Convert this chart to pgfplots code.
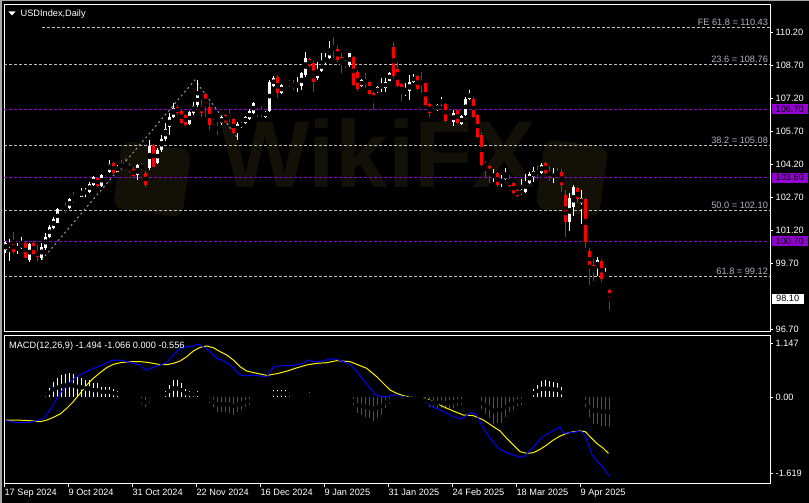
\documentclass[border=0pt]{standalone}
\usepackage{fontspec}
\setmainfont{Liberation Sans}
\usepackage{pgfplots}
\usepackage{pgfplotstable}
\pgfplotsset{compat=1.18}
\definecolor{fibgray}{HTML}{BEBEBE}
\definecolor{fibtxt}{HTML}{B0B4BC}
\definecolor{mtpurple}{HTML}{9400D3}
\definecolor{candlered}{HTML}{FF0000}
\definecolor{histred}{HTML}{DC1414}
\definecolor{wm}{RGB}{19,16,7}
\newcommand\lab{\fontsize{9.2bp}{11bp}\selectfont}
% up-indicator: 1 if close > open, 0 otherwise (no comparisons)
\newcommand\upind{min(1,1000*max(0,\thisrow{c}-\thisrow{o}))}

\pgfplotstableread{
i o h l c
0 100.32 100.70 100.17 100.65
1 100.50 100.80 99.83 100.62
2 100.65 101.14 100.17 100.24
3 100.36 100.65 100.12 100.40
4 100.40 100.90 100.38 100.60
5 100.65 100.70 99.95 99.97
6 99.86 100.62 99.78 100.60
7 100.65 100.70 100.10 100.14
8 100.27 100.55 99.80 100.00
9 99.94 100.62 99.86 100.47
10 100.40 101.08 100.32 100.92
11 100.90 101.45 100.85 101.38
12 101.30 101.83 101.26 101.71
13 101.56 102.20 101.53 102.17
14 102.30 102.36 102.14 102.22
15 102.27 102.44 101.98 102.17
16 102.21 102.70 102.17 102.64
17 102.67 102.95 102.44 102.56
18 102.71 102.77 102.52 102.62
19 102.74 103.12 102.71 102.97
20 102.92 103.12 102.74 103.01
21 102.97 103.39 102.92 103.32
22 103.27 103.68 103.23 103.62
23 103.58 103.62 103.20 103.24
24 103.23 103.77 103.20 103.73
25 103.73 103.92 103.68 103.86
26 103.86 104.41 103.83 104.23
27 104.26 104.30 103.78 103.83
28 103.88 104.20 103.85 104.10
29 104.21 104.41 103.92 104.06
30 104.10 104.48 103.95 104.06
31 104.10 104.26 103.80 103.90
32 103.98 104.10 103.58 103.68
33 103.73 104.23 103.50 104.18
34 104.10 104.25 103.95 104.05
35 103.83 103.90 103.20 103.27
36 104.03 105.32 103.95 105.05
37 105.09 105.14 104.08 104.10
38 104.29 104.94 104.23 104.86
39 104.86 105.55 104.79 105.36
40 105.35 106.08 105.29 105.80
41 105.90 106.53 105.55 106.38
42 106.35 106.98 106.30 106.76
43 106.83 106.90 106.45 106.53
44 106.65 106.71 106.05 106.10
45 106.45 106.50 105.95 106.00
46 106.03 106.65 105.98 106.60
47 106.53 107.06 106.45 106.86
48 106.91 108.04 106.83 107.36
49 106.86 107.13 106.38 106.55
50 107.41 107.44 106.38 106.80
51 106.80 107.06 105.77 105.98
52 106.19 106.25 106.00 106.07
53 105.95 106.15 105.54 105.76
54 106.07 106.40 106.00 106.34
55 106.43 106.50 106.10 106.14
56 106.45 106.68 106.15 106.26
57 106.25 106.30 105.60 105.64
58 105.72 106.15 105.31 106.02
59 105.90 106.15 105.85 106.10
60 106.07 106.42 106.02 106.38
61 106.25 106.70 106.20 106.63
62 106.52 107.05 106.48 107.00
63 106.63 106.75 106.37 106.52
64 106.63 106.86 106.34 106.50
65 106.37 106.65 106.33 106.60
66 106.64 108.04 106.60 107.96
67 107.76 108.21 107.73 108.14
68 108.19 108.26 107.23 107.43
69 107.43 107.87 107.40 107.81
70 107.84 108.05 107.80 108.00
71 107.92 108.04 107.73 107.81
72 107.89 108.04 107.58 107.66
73 107.73 108.19 107.51 107.84
74 107.76 108.42 107.58 108.34
75 108.26 109.33 108.19 109.02
76 108.99 109.05 108.65 108.69
77 108.80 108.90 107.50 107.96
78 108.11 108.87 108.04 108.52
79 108.45 109.25 108.42 108.83
80 108.80 109.25 108.72 109.02
81 109.02 109.83 108.98 109.48
82 109.52 110.00 109.02 109.40
83 109.45 109.63 108.87 108.95
84 109.10 109.25 108.37 108.80
85 108.87 108.95 108.60 108.67
86 108.72 109.28 108.64 109.25
87 109.10 109.15 107.78 107.81
88 108.42 108.50 107.55 107.61
89 107.76 108.10 107.70 108.04
90 108.04 108.34 107.66 107.89
91 107.96 108.00 107.35 107.39
92 107.43 107.48 106.70 107.10
93 107.48 107.75 107.44 107.70
94 107.70 108.11 107.50 107.80
95 107.66 108.11 107.50 107.96
96 108.01 108.40 107.98 108.34
97 109.55 109.75 108.11 108.22
98 108.52 108.87 107.73 107.76
99 107.84 107.89 107.10 107.43
100 107.40 107.89 107.30 107.54
101 107.55 108.26 107.13 107.96
102 107.96 108.30 107.89 108.19
103 108.23 108.28 107.58 107.61
104 107.92 108.42 107.46 107.84
105 107.89 107.92 106.85 106.90
106 106.95 107.00 106.37 106.55
107 106.70 106.75 106.50 106.55
108 106.67 106.95 106.64 106.90
109 106.90 107.28 106.86 107.08
110 106.95 107.00 106.15 106.19
111 106.30 106.50 106.25 106.45
112 106.14 106.67 105.95 106.55
113 106.67 106.70 106.05 106.10
114 106.04 106.45 105.98 106.40
115 106.45 107.25 106.40 107.20
116 107.16 107.58 107.13 107.46
117 107.20 107.25 106.30 106.34
118 106.45 106.50 105.40 105.43
119 105.54 105.69 104.13 104.18
120 104.25 104.35 103.65 104.10
121 104.13 104.20 103.37 103.72
122 103.57 103.98 103.42 103.77
123 103.80 103.85 103.16 103.27
124 103.37 103.72 103.19 103.49
125 103.53 104.02 103.49 103.77
126 103.49 103.72 103.16 103.22
127 103.34 103.40 102.85 102.89
128 103.04 103.10 102.72 102.77
129 102.84 103.56 102.80 103.04
130 102.96 103.77 102.92 103.42
131 103.37 103.87 103.31 103.77
132 103.65 104.07 103.42 103.92
133 103.95 104.18 103.52 103.77
134 103.80 104.28 103.77 104.18
135 104.25 104.33 103.77 103.83
136 103.87 104.13 103.46 103.62
137 103.62 104.02 103.37 103.80
138 103.80 104.02 103.57 103.69
139 103.87 103.98 102.96 103.27
140 102.81 103.04 100.92 101.60
141 101.60 102.92 101.19 102.66
142 102.28 103.27 101.86 103.16
143 103.12 103.20 102.43 102.62
144 102.46 103.04 101.50 102.66
145 102.62 102.70 100.39 100.66
146 100.28 100.39 98.72 99.51
147 99.63 99.89 98.92 99.36
148 99.51 100.01 99.13 99.86
149 99.81 99.90 98.87 98.98
150 98.98 99.51 98.95 99.10
151 98.49 98.55 97.59 98.04
}\candles

\pgfplotstableread{
i v
1 -0.07
2 -0.075
3 -0.078
4 -0.075
5 -0.07
6 -0.065
7 -0.02
9 0.043
10 0.113
11 0.184
12 0.326
13 0.397
14 0.468
15 0.489
16 0.504
17 0.489
18 0.433
19 0.411
20 0.362
21 0.362
22 0.291
23 0.291
24 0.22
25 0.22
26 0.22
27 0.163
28 0.135
29 0.092
30 0.043
31 0.008
32 -0.078
33 -0.078
34 -0.149
35 -0.22
36 -0.121
37 -0.092
38 -0.064
39 0.028
40 0.128
41 0.255
42 0.362
43 0.362
44 0.291
45 0.163
46 0.135
47 0.113
48 0.128
49 -0.014
50 -0.01
51 -0.121
52 -0.206
53 -0.312
54 -0.312
55 -0.312
56 -0.333
57 -0.383
58 -0.312
59 -0.277
60 -0.22
61 -0.17
62 -0.078
63 -0.078
64 -0.064
65 -0.064
66 0.07
67 0.149
68 0.149
69 0.149
70 0.149
71 0.113
72 0.057
73 0.021
74 0.043
75 0.078
76 0.099
77 0.007
79 0.028
80 0.043
81 0.064
82 0.064
83 0.007
84 -0.028
85 -0.085
86 -0.085
87 -0.17
88 -0.348
89 -0.383
90 -0.418
91 -0.454
92 -0.511
93 -0.454
94 -0.383
95 -0.241
96 -0.156
97 -0.064
98 -0.028
99 -0.064
100 -0.064
101 -0.064
102 -0.043
103 -0.028
104 -0.043
105 -0.135
106 -0.206
107 -0.241
108 -0.255
109 -0.241
110 -0.255
111 -0.227
112 -0.227
113 -0.184
114 -0.17
115 -0.005
116 0.057
117 0.005
118 -0.028
119 -0.255
120 -0.369
121 -0.454
122 -0.582
123 -0.560
124 -0.545
125 -0.435
126 -0.32
127 -0.285
128 -0.2
129 -0.16
130 -0.03
131 0.064
132 0.163
133 0.255
134 0.348
135 0.362
136 0.348
137 0.326
138 0.305
139 0.206
140 0.005
141 -0.028
142 -0.028
143 -0.028
144 -0.028
145 -0.206
146 -0.433
147 -0.574
148 -0.574
149 -0.61
150 -0.61
151 -0.645
}\hist

\begin{document}
\begin{tikzpicture}
\useasboundingbox (0,0) rectangle (809bp,503bp);
\fill[black] (0,0) rectangle (809bp,503bp);
\fill[gray!70] (0,501.6bp) rectangle (809bp,503bp);
\fill[gray!70] (0,0) rectangle (1.5bp,503bp);
% watermark
\begin{scope}
\fill[wm,rounded corners=10bp,rotate around={-8:(152bp,323bp)}] (117bp,290bp) rectangle (187bp,358bp);
\fill[wm,rounded corners=10bp,rotate around={-8:(572bp,325bp)}] (540bp,290bp) rectangle (604bp,360bp);
\node[text=wm,font=\fontsize{95bp}{95bp}\selectfont\bfseries] at (378bp,350bp) {WikiFX};
\end{scope}

% ---------------- main price panel ----------------
\begin{axis}[
  at={(4bp,171bp)}, anchor=south west, scale only axis,
  width=766bp, height=327bp,
  xmin=-0.425, xmax=191.075, ymin=96.586, ymax=111.45,
  axis line style={white, line width=1bp},
  xtick=\empty,
  ytick={96.7,99.7,101.2,102.7,104.2,105.7,107.2,108.7,110.2},
  yticklabels={96.70,99.70,101.20,102.70,104.20,105.70,107.20,108.70,110.20},
  ytick pos=right, yticklabel pos=right,
  tick align=outside, major tick length=3bp,
  tick style={white, line width=1bp},
  yticklabel style={font=\lab, text=white, inner sep=0pt, xshift=2.5bp},
  clip=false,
]
% fib / level lines
\addplot[fibgray, line width=1bp, dash pattern=on 3bp off 2bp] coordinates {(9,110.43) (191.075,110.43)};
\addplot[fibgray, line width=1bp, dash pattern=on 3bp off 2bp] coordinates {(-0.425,108.76) (191.075,108.76)};
\addplot[fibgray, line width=1bp, dash pattern=on 3bp off 2bp] coordinates {(-0.425,105.08) (191.075,105.08)};
\addplot[fibgray, line width=1bp, dash pattern=on 3bp off 2bp] coordinates {(-0.425,102.10) (191.075,102.10)};
\addplot[fibgray, line width=1bp, dash pattern=on 3bp off 2bp] coordinates {(-0.425,99.12) (191.075,99.12)};
\addplot[mtpurple, line width=1bp, dash pattern=on 3bp off 2bp] coordinates {(-0.425,106.70) (191.075,106.70)};
\addplot[mtpurple, line width=1bp, dash pattern=on 3bp off 2bp] coordinates {(-0.425,103.60) (191.075,103.60)};
\addplot[mtpurple, line width=1bp, dash pattern=on 3bp off 2bp] coordinates {(-0.425,100.70) (191.075,100.70)};
% fibo expansion zigzag
\addplot[gray!80, line width=1bp, dash pattern=on 2bp off 3bp] coordinates {(9,99.86) (47.3,108.04) (57.8,105.45)};

% wicks (up = white, down = red)
\addplot[only marks, mark=none, restrict y to domain=90:120,
  error bars/.cd, y dir=both, y explicit, error mark=none,
  error bar style={draw=white, line width=1bp}]
  table[x=i, y expr={(\thisrow{h}+\thisrow{l})/2 - 1000*(1-\upind)},
        y error expr={(\thisrow{h}-\thisrow{l})/2}] {\candles};
\addplot[only marks, mark=none, restrict y to domain=90:120,
  error bars/.cd, y dir=both, y explicit, error mark=none,
  error bar style={draw=candlered, line width=1bp}]
  table[x=i, y expr={(\thisrow{h}+\thisrow{l})/2 - 1000*\upind},
        y error expr={(\thisrow{h}-\thisrow{l})/2}] {\candles};
% bodies
\addplot[only marks, mark=none, restrict y to domain=90:120,
  error bars/.cd, y dir=both, y explicit, error mark=none,
  error bar style={draw=white, line width=3bp}]
  table[x=i, y expr={(\thisrow{o}+\thisrow{c})/2 - 1000*(1-\upind)},
        y error expr={max(abs(\thisrow{c}-\thisrow{o})/2,0.025)}] {\candles};
\addplot[only marks, mark=none, restrict y to domain=90:120,
  error bars/.cd, y dir=both, y explicit, error mark=none,
  error bar style={draw=candlered, line width=3bp}]
  table[x=i, y expr={(\thisrow{o}+\thisrow{c})/2 - 1000*\upind},
        y error expr={max(abs(\thisrow{c}-\thisrow{o})/2,0.025)}] {\candles};

% level labels
\node[anchor=base east, text=fibtxt, font=\lab, inner sep=0pt] at (axis cs:190.6,110.43) [yshift=2bp] {FE 61.8 = 110.43};
\node[anchor=base east, text=fibtxt, font=\lab, inner sep=0pt] at (axis cs:190.6,108.76) [yshift=2bp] {23.6 = 108.76};
\node[anchor=base east, text=fibtxt, font=\lab, inner sep=0pt] at (axis cs:190.6,105.08) [yshift=2bp] {38.2 = 105.08};
\node[anchor=base east, text=fibtxt, font=\lab, inner sep=0pt] at (axis cs:190.6,102.10) [yshift=2bp] {50.0 = 102.10};
\node[anchor=base east, text=fibtxt, font=\lab, inner sep=0pt] at (axis cs:190.6,99.12) [yshift=2bp] {61.8 = 99.12};
% price boxes
\node[anchor=west, fill=mtpurple, text=black, font=\lab, inner sep=0pt, minimum width=36bp, minimum height=10bp] at (axis cs:191.075,106.70) [xshift=1.5bp] {106.70};
\node[anchor=west, fill=mtpurple, text=black, font=\lab, inner sep=0pt, minimum width=36bp, minimum height=10bp] at (axis cs:191.075,103.60) [xshift=1.5bp] {103.60};
\node[anchor=west, fill=mtpurple, text=black, font=\lab, inner sep=0pt, minimum width=36bp, minimum height=10bp] at (axis cs:191.075,100.70) [xshift=1.5bp] {100.70};
\node[anchor=west, fill=white, text=black, font=\lab, inner sep=0pt, minimum width=32bp, minimum height=10bp] at (axis cs:191.075,98.10) [xshift=1.5bp] {98.10};
\end{axis}

% ---------------- MACD panel ----------------
\begin{axis}[
  at={(4bp,19bp)}, anchor=south west, scale only axis,
  width=766bp, height=148bp,
  xmin=-0.425, xmax=191.075, ymin=-1.851, ymax=1.298,
  axis line style={white, line width=1bp},
  xtick={-0.2,15.8,31.8,47.8,63.8,79.8,95.8,111.8,127.8,143.8},
  xticklabels={17 Sep 2024,9 Oct 2024,31 Oct 2024,22 Nov 2024,16 Dec 2024,9 Jan 2025,31 Jan 2025,24 Feb 2025,18 Mar 2025,9 Apr 2025},
  xtick pos=left,
  ytick={-1.619,0,1.147},
  yticklabels={-1.619,0.00,1.147},
  ytick pos=right, yticklabel pos=right,
  tick align=outside, major tick length=3bp,
  tick style={white, line width=1bp},
  yticklabel style={font=\lab, text=white, inner sep=0pt, xshift=2.5bp},
  xticklabel style={font=\lab, text=white, inner sep=0pt, anchor=north west, xshift=-0.5bp, yshift=-2bp},
  clip=false,
]
% histogram: sign of y selects the plot
\addplot[only marks, mark=none, restrict y to domain=0:5,
  error bars/.cd, y dir=both, y explicit, error mark=none,
  error bar style={draw=white, line width=1bp}]
  table[x=i, y expr={\thisrow{v}/2}, y error expr={abs(\thisrow{v})/2}] {\hist};
\addplot[only marks, mark=none, restrict y to domain=-5:-0.0001,
  error bars/.cd, y dir=both, y explicit, error mark=none,
  error bar style={draw=histred, line width=1bp}]
  table[x=i, y expr={\thisrow{v}/2}, y error expr={abs(\thisrow{v})/2}] {\hist};
% signal (yellow)
\addplot[yellow, line width=1bp] coordinates {
(0,-0.493)(3.6,-0.493)(6.1,-0.504)(8.6,-0.525)(10.25,-0.493)(11.9,-0.433)(13.6,-0.362)(15.25,-0.241)(16.9,-0.099)(18.6,0.078)(20.25,0.255)(21.9,0.397)(23.6,0.518)(25.25,0.624)(26.9,0.695)(28.6,0.73)(30.25,0.745)(31.9,0.752)(33.6,0.752)(35.25,0.738)(36.9,0.716)(38.6,0.688)(40.25,0.688)(41.9,0.716)(43.6,0.766)(45.25,0.858)(46.9,0.979)(48.6,1.057)(50.25,1.085)(51.9,1.05)(53.6,0.965)(55.25,0.894)(56.9,0.787)(58.6,0.645)(60.25,0.553)(61.9,0.52)(63.6,0.49)(65.25,0.46)(67.75,0.495)(70.25,0.55)(72.75,0.62)(75.25,0.681)(77.75,0.716)(80.25,0.730)(82.75,0.773)(86.1,0.752)(88.6,0.667)(90.25,0.610)(92.75,0.433)(94.4,0.291)(96.1,0.149)(97.75,0.078)(99.4,0.028)(101.1,0.0)(104.4,-0.014)(106.9,-0.099)(109.4,-0.206)(111.9,-0.298)(114.4,-0.383)(116.9,-0.397)(119.4,-0.489)(121.9,-0.631)(123.6,-0.723)(125.25,-0.879)(126.9,-1.021)(128.6,-1.163)(130.25,-1.199)(131.9,-1.184)(133.6,-1.113)(135.25,-1.021)(136.9,-0.915)(138.6,-0.830)(140.25,-0.773)(141.9,-0.738)(143.6,-0.723)(144.9,-0.738)(146.1,-0.844)(147.75,-0.986)(149.4,-1.092)(150.7,-1.199)
};
% MACD (blue)
\addplot[blue, line width=1bp] coordinates {
(0,-0.504)(2.75,-0.546)(5.25,-0.546)(7.75,-0.504)(9.4,-0.454)(11.1,-0.277)(12.3,-0.1)(13.6,0.078)(15.25,0.255)(17.75,0.433)(20.25,0.539)(21.9,0.61)(23.6,0.66)(25.25,0.73)(26.9,0.787)(28.6,0.787)(30.25,0.752)(31.9,0.716)(33.6,0.681)(34.4,0.61)(35.25,0.574)(36.9,0.631)(38.6,0.681)(40.25,0.73)(41.9,0.894)(43.6,1.035)(45.25,1.07)(46.9,1.085)(48.2,1.128)(49.4,1.07)(51.1,0.965)(52.75,0.823)(54.4,0.773)(56.1,0.681)(57.75,0.539)(58.6,0.468)(60.25,0.447)(61.9,0.468)(63.6,0.447)(65.25,0.433)(66.9,0.635)(69.4,0.67)(71.9,0.67)(74.4,0.716)(75.7,0.787)(76.9,0.752)(78.6,0.752)(81.1,0.809)(82.75,0.801)(84.4,0.752)(86.1,0.695)(87.75,0.539)(89.4,0.362)(91.1,0.184)(92.3,0.057)(93.6,0.007)(95.25,0.007)(96.9,0.043)(98.6,0.021)(100.25,-0.007)(101.9,-0.014)(103.6,-0.028)(105.25,-0.099)(106.5,-0.206)(108.6,-0.277)(110.25,-0.348)(111.9,-0.418)(113.6,-0.468)(114.8,-0.418)(116.5,-0.326)(117.75,-0.383)(119.4,-0.667)(121.1,-0.879)(123.2,-1.092)(125.25,-1.19)(126.9,-1.234)(128.6,-1.28)(129.8,-1.255)(131.1,-1.128)(132.75,-0.986)(134,-0.858)(135.75,-0.773)(137.4,-0.688)(138.6,-0.645)(139.4,-0.773)(141.1,-0.759)(142.75,-0.738)(144,-0.738)(144.9,-0.844)(145.75,-1.021)(146.6,-1.234)(147.75,-1.355)(149.4,-1.504)(150.8,-1.681)
};
\end{axis}

% titles
\fill[white] (8.5bp,491.5bp) -- (15.5bp,491.5bp) -- (12bp,487.5bp) -- cycle;
\node[anchor=base west, text=white, font=\lab, inner sep=0pt] at (20.5bp,486.5bp) {USDIndex,Daily};
\node[anchor=base west, text=white, font=\lab, inner sep=0pt] at (9bp,154.5bp) {MACD(12,26,9) -1.494 -1.066 0.000 -0.556};
\end{tikzpicture}
\end{document}
